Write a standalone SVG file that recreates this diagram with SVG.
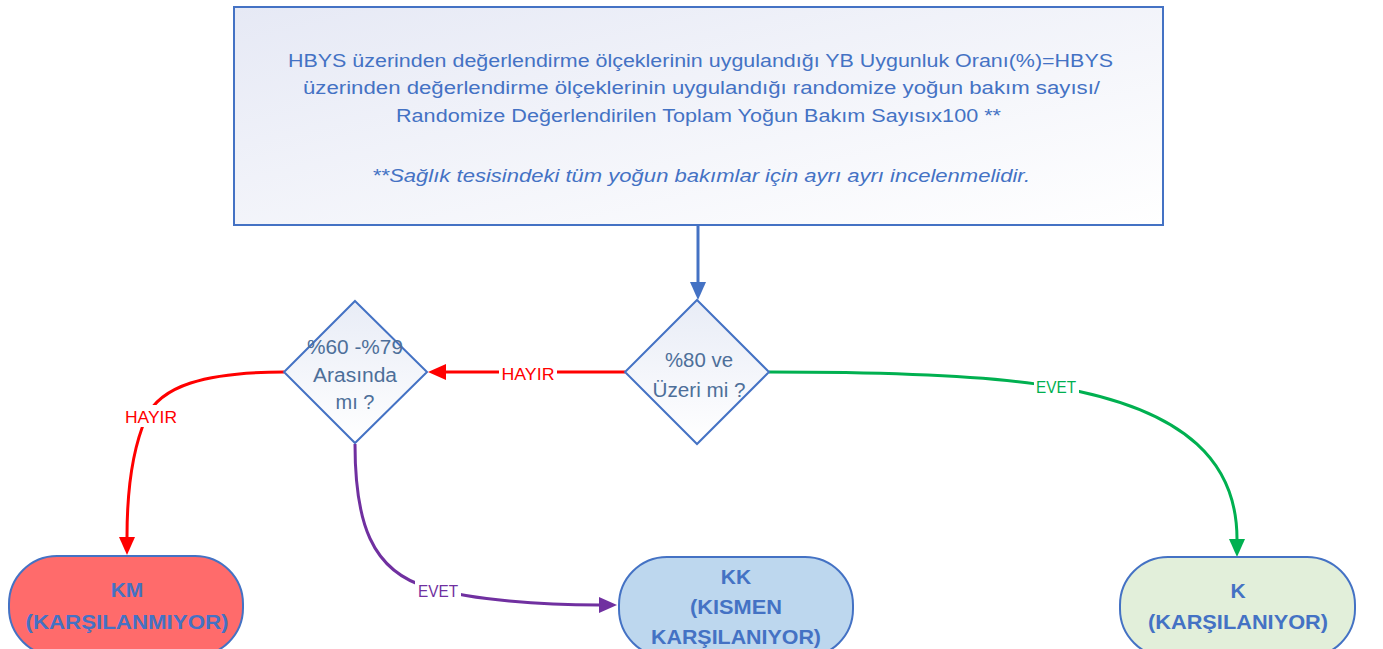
<svg xmlns="http://www.w3.org/2000/svg" width="1383" height="649" viewBox="0 0 1383 649">
  <style>
    .box { stroke: #4472C4; stroke-width: 2; }
    .formula { font-family: "Liberation Sans", Arial, sans-serif; font-size: 17.5px; fill: #4472C4; }
    .q { font-family: "Liberation Sans", Arial, sans-serif; font-size: 20px; fill: #4D6F99; text-anchor: middle; }
    .res { font-family: "Liberation Sans", Arial, sans-serif; font-size: 21px; font-weight: bold; fill: #4472C4; text-anchor: middle; }
    .lbl { font-family: "Liberation Sans", Arial, sans-serif; font-size: 17px; text-anchor: middle; }
    .conn { fill: none; stroke-width: 3; }
  </style>
  <defs>
    <linearGradient id="paleBlue" x1="0" y1="0" x2="1" y2="1">
      <stop offset="0" stop-color="#E6E9F5"/>
      <stop offset="1" stop-color="#FFFFFF"/>
    </linearGradient>
    <linearGradient id="diamondFill" x1="0" y1="0" x2="0" y2="1">
      <stop offset="0" stop-color="#E8ECF6"/>
      <stop offset="1" stop-color="#FFFFFF"/>
    </linearGradient>
    <marker id="ahBlue" markerUnits="userSpaceOnUse" markerWidth="20" markerHeight="18" refX="0" refY="9" orient="auto" overflow="visible">
      <path d="M0,1 L18,9 L0,17 z" fill="#4472C4"/>
    </marker>
    <marker id="ahRed" markerUnits="userSpaceOnUse" markerWidth="20" markerHeight="18" refX="0" refY="9" orient="auto" overflow="visible">
      <path d="M0,1 L18,9 L0,17 z" fill="#FF0000"/>
    </marker>
    <marker id="ahPurple" markerUnits="userSpaceOnUse" markerWidth="20" markerHeight="18" refX="0" refY="9" orient="auto" overflow="visible">
      <path d="M0,1 L18,9 L0,17 z" fill="#7030A0"/>
    </marker>
    <marker id="ahGreen" markerUnits="userSpaceOnUse" markerWidth="20" markerHeight="18" refX="0" refY="9" orient="auto" overflow="visible">
      <path d="M0,1 L18,9 L0,17 z" fill="#00B050"/>
    </marker>
  </defs>

  <rect width="1383" height="649" fill="#FFFFFF"/>

  <!-- connectors -->
  <g id="connectors">
    <path class="conn" stroke="#4472C4" d="M698,225 L698,282" marker-end="url(#ahBlue)"/>

    <path class="conn" stroke="#FF0000" d="M625,372 L446,372" marker-end="url(#ahRed)"/>
    <rect x="499" y="362" width="58" height="22" fill="#FFFFFF"/>
    <text class="lbl" x="528" y="380" fill="#FF0000" textLength="53" lengthAdjust="spacingAndGlyphs">HAYIR</text>

    <path class="conn" stroke="#FF0000" d="M284,372 C205,372 160,386 146,418 C132,450 127,490 127,537" marker-end="url(#ahRed)"/>
    <rect x="122" y="405" width="58" height="22" fill="#FFFFFF"/>
    <text class="lbl" x="151" y="423" fill="#FF0000" textLength="52" lengthAdjust="spacingAndGlyphs">HAYIR</text>

    <path class="conn" stroke="#7030A0" d="M355,444 C355,520 370,572 430,588 C475,600 540,605 599,605" marker-end="url(#ahPurple)"/>
    <rect x="415" y="579" width="46" height="22" fill="#FFFFFF"/>
    <text class="lbl" x="438" y="597" fill="#7030A0" textLength="40" lengthAdjust="spacingAndGlyphs">EVET</text>

    <path class="conn" stroke="#00B050" d="M769,372 C900,372 1000,377 1056,387 C1190,410 1237,465 1237,539" marker-end="url(#ahGreen)"/>
    <rect x="1034" y="376" width="45" height="22" fill="#FFFFFF"/>
    <text class="lbl" x="1056" y="393" fill="#00B050" textLength="40" lengthAdjust="spacingAndGlyphs">EVET</text>
  </g>

  <!-- formula box -->
  <g id="formula">
    <rect class="box" x="234" y="7" width="929" height="218" fill="url(#paleBlue)"/>
    <text class="formula" x="288" y="67" textLength="825" lengthAdjust="spacingAndGlyphs">HBYS üzerinden değerlendirme ölçeklerinin uygulandığı YB  Uygunluk Oranı(%)=HBYS</text>
    <text class="formula" x="303" y="94" textLength="797" lengthAdjust="spacingAndGlyphs">üzerinden değerlendirme ölçeklerinin uygulandığı randomize  yoğun bakım sayısı/</text>
    <text class="formula" x="396" y="122" textLength="605" lengthAdjust="spacingAndGlyphs">Randomize Değerlendirilen Toplam Yoğun Bakım Sayısıx100 **</text>
    <text class="formula" x="372" y="182" font-style="italic" textLength="658" lengthAdjust="spacingAndGlyphs">**Sağlık tesisindeki tüm yoğun bakımlar için ayrı ayrı incelenmelidir.</text>
  </g>

  <!-- decision: 80% and above -->
  <g id="q80">
    <polygon class="box" points="697,300 769,372 697,444 625,372" fill="url(#diamondFill)"/>
    <text class="q" x="699" y="367" textLength="68" lengthAdjust="spacingAndGlyphs">%80 ve</text>
    <text class="q" x="699" y="397" textLength="93" lengthAdjust="spacingAndGlyphs">Üzeri mi ?</text>
  </g>

  <!-- decision: between 60% and 79% -->
  <g id="q60">
    <polygon class="box" points="355,301 427,372 355,443 284,372" fill="url(#diamondFill)"/>
    <text class="q" x="355" y="354" textLength="96" lengthAdjust="spacingAndGlyphs">%60 -%79</text>
    <text class="q" x="355" y="382" textLength="84" lengthAdjust="spacingAndGlyphs">Arasında</text>
    <text class="q" x="355" y="409">mı ?</text>
  </g>

  <!-- outcome: not met -->
  <g id="km">
    <rect class="box" x="9" y="556" width="234" height="100" rx="48" ry="48" fill="#FF6B6B"/>
    <text class="res" x="127" y="597">KM</text>
    <text class="res" x="127" y="629" textLength="203" lengthAdjust="spacingAndGlyphs">(KARŞILANMIYOR)</text>
  </g>

  <!-- outcome: partially met -->
  <g id="kk">
    <rect class="box" x="619" y="557" width="234" height="100" rx="48" ry="48" fill="#BDD7EE"/>
    <text class="res" x="736" y="584">KK</text>
    <text class="res" x="736" y="614" textLength="92" lengthAdjust="spacingAndGlyphs">(KISMEN</text>
    <text class="res" x="736" y="644" textLength="170" lengthAdjust="spacingAndGlyphs">KARŞILANIYOR)</text>
  </g>

  <!-- outcome: met -->
  <g id="k">
    <rect class="box" x="1120" y="557" width="235" height="100" rx="48" ry="48" fill="#E2EFDA"/>
    <text class="res" x="1238" y="598">K</text>
    <text class="res" x="1238" y="629" textLength="180" lengthAdjust="spacingAndGlyphs">(KARŞILANIYOR)</text>
  </g>
</svg>
